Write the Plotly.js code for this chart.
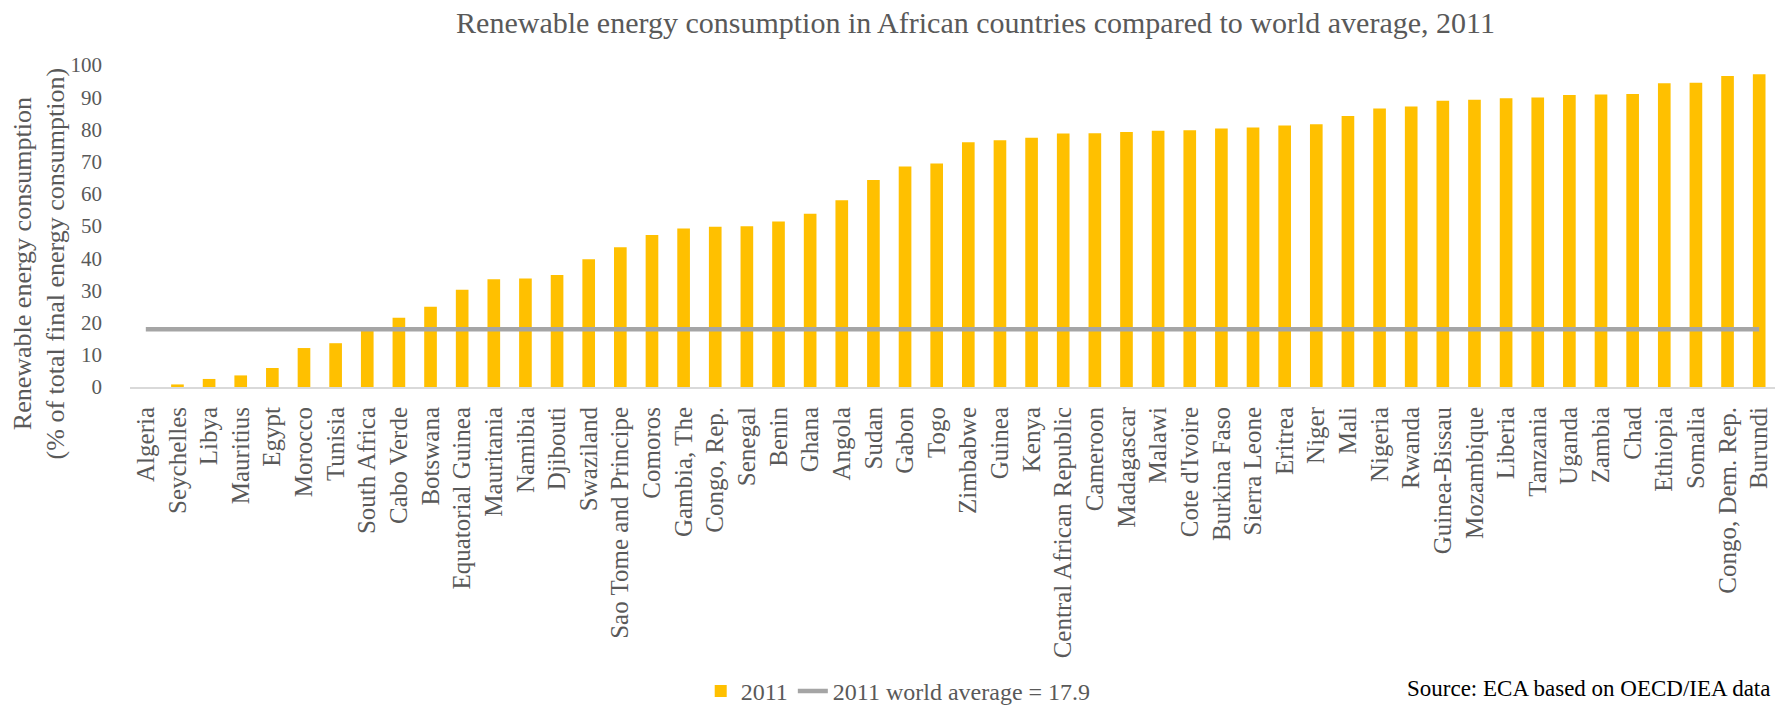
<!DOCTYPE html>
<html>
<head>
<meta charset="utf-8">
<script src="https://cdn.plot.ly/plotly-3.0.1.min.js"></script>
<style>
  html, body { margin: 0; padding: 0; background: #ffffff; }
  #chart { width: 1779px; height: 717px; }
</style>
</head>
<body>
<div id="chart"></div>
<script>
const countries = [
  "Algeria", "Seychelles", "Libya", "Mauritius", "Egypt", "Morocco", "Tunisia",
  "South Africa", "Cabo Verde", "Botswana", "Equatorial Guinea", "Mauritania",
  "Namibia", "Djibouti", "Swaziland", "Sao Tome and Principe", "Comoros",
  "Gambia, The", "Congo, Rep.", "Senegal", "Benin", "Ghana", "Angola", "Sudan",
  "Gabon", "Togo", "Zimbabwe", "Guinea", "Kenya", "Central African Republic",
  "Cameroon", "Madagascar", "Malawi", "Cote d'Ivoire", "Burkina Faso",
  "Sierra Leone", "Eritrea", "Niger", "Mali", "Nigeria", "Rwanda",
  "Guinea-Bissau", "Mozambique", "Liberia", "Tanzania", "Uganda", "Zambia",
  "Chad", "Ethiopia", "Somalia", "Congo, Dem. Rep.", "Burundi"
];

const values2011 = [
  0.0, 0.8, 2.5, 3.6, 5.9, 12.1, 13.6,
  17.5, 21.5, 24.9, 30.2, 33.5,
  33.7, 34.8, 39.7, 43.4, 47.2,
  49.2, 49.8, 49.9, 51.4, 53.8, 58.0, 64.3,
  68.5, 69.4, 76.0, 76.6, 77.4, 78.7,
  78.8, 79.2, 79.6, 79.7, 80.3,
  80.6, 81.2, 81.6, 84.2, 86.5, 87.1,
  88.9, 89.2, 89.7, 89.9, 90.7, 90.8,
  91.0, 94.3, 94.5, 96.6, 97.1
];

const worldAverage = 17.9;
const yTickValues = [0, 10, 20, 30, 40, 50, 60, 70, 80, 90, 100];

const barName = "2011";
const lineName = "2011 world average = 17.9";
const chartTitle = "Renewable energy consumption in African countries compared to world average, 2011";
const yTitle = "Renewable energy consumption<br>(% of total final energy consumption)";
const sourceText = "Source: ECA based on OECD/IEA data";

const FONT = "Liberation Serif, Times New Roman, serif";
const TXT = "#595959";

const traces = [
  {
    type: "bar",
    name: barName,
    x: countries,
    y: values2011,
    marker: { color: "#FFC000" },
    hoverinfo: "x+y"
  },
  {
    type: "scatter",
    mode: "lines",
    name: lineName,
    x: [countries[0], countries[countries.length - 1]],
    y: [worldAverage, worldAverage],
    line: { color: "#A5A5A5", width: 4.5 },
    hoverinfo: "y"
  }
];

const layout = {
  width: 1779,
  height: 717,
  paper_bgcolor: "#ffffff",
  plot_bgcolor: "#ffffff",
  font: { family: FONT, color: TXT, size: 20 },
  margin: { l: 130, r: 4, t: 65, b: 324, pad: 0 },
  title: {
    text: chartTitle,
    font: { family: FONT, size: 30, color: TXT },
    x: 0.514, xanchor: "center",
    y: 0.968, yanchor: "middle",
    xref: "paper", yref: "container"
  },
  bargap: 0.6,
  showlegend: true,
  legend: {
    orientation: "h",
    x: 0.467, xanchor: "center",
    y: -0.945, yanchor: "middle",
    font: { family: FONT, size: 24, color: TXT },
    bgcolor: "rgba(0,0,0,0)",
    itemwidth: 30,
    traceorder: "normal"
  },
  xaxis: {
    type: "category",
    showgrid: false,
    zeroline: false,
    showline: true,
    linecolor: "#D9D9D9",
    linewidth: 2,
    ticks: "",
    tickangle: -90,
    ticklabelstandoff: 8,
    tickfont: { family: FONT, size: 25, color: TXT },
    automargin: false
  },
  yaxis: {
    range: [0, 100],
    tickmode: "array",
    tickvals: yTickValues,
    ticktext: yTickValues.map(String),
    showgrid: false,
    zeroline: false,
    showline: false,
    ticks: "",
    ticklabelstandoff: 27,
    tickfont: { family: FONT, size: 21, color: TXT },
    automargin: false
  },
  annotations: [
    {
      text: yTitle,
      xref: "paper", yref: "paper",
      x: -0.0553, xanchor: "center",
      y: 0.384, yanchor: "middle",
      textangle: -90,
      showarrow: false,
      align: "center",
      font: { family: FONT, size: 26, color: TXT }
    },
    {
      text: sourceText,
      xref: "paper", yref: "paper",
      x: 0.998, xanchor: "right",
      y: -0.982, yanchor: "bottom",
      showarrow: false,
      font: { family: FONT, size: 23, color: "#000000" }
    }
  ]
};

Plotly.newPlot("chart", traces, layout, { displayModeBar: false, responsive: false });
</script>
</body>
</html>
